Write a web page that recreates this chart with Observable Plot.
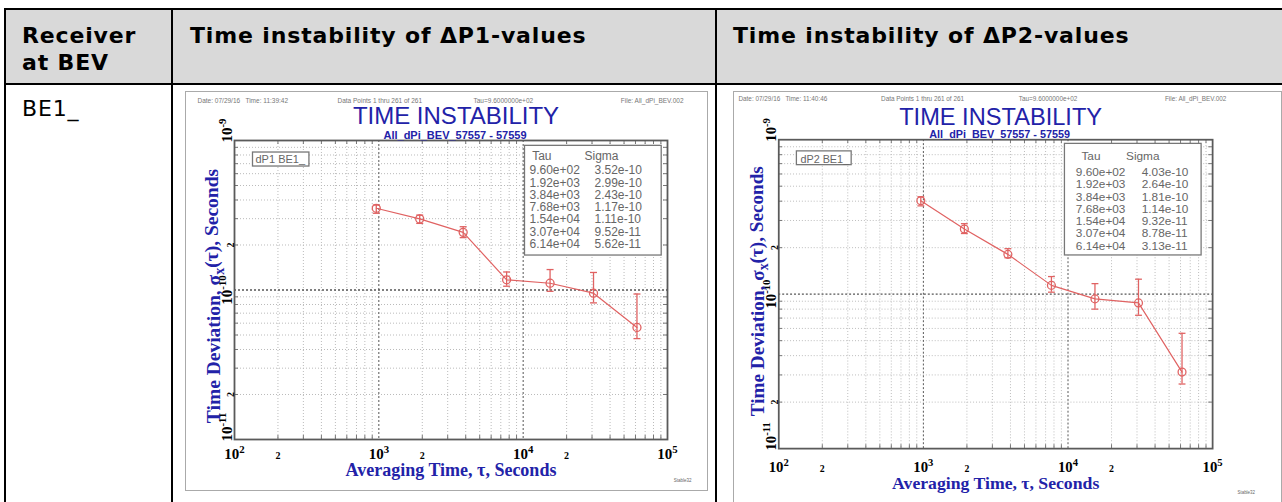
<!DOCTYPE html>
<html>
<head>
<meta charset="utf-8">
<script src="https://cdn.jsdelivr.net/npm/d3@7"></script>
<script src="https://cdn.jsdelivr.net/npm/@observablehq/plot@0.6"></script>
<style>
  body { margin: 0; width: 1282px; height: 502px; overflow: hidden; position: relative; background: #fff;
         font-family: "DejaVu Sans", Verdana, sans-serif; color: #000; }
  .hdr { position: absolute; left: 5px; top: 9px; width: 1300px; height: 75px; background: #d9d9d9; }
  .ln { position: absolute; background: #000; }
  .cell { position: absolute; font-size: 22px; line-height: 27px; letter-spacing: 0.85px; }
  .b { font-weight: bold; }
  .chart { position: absolute; border: 1px solid #aaa; background: #fff; }
  .chart svg { display: block; }
</style>
</head>
<body>
<div class="hdr"></div>
<div class="ln" style="left:5px;top:8px;width:1300px;height:2px"></div>
<div class="ln" style="left:5px;top:83px;width:1300px;height:2px"></div>
<div class="ln" style="left:4px;top:8px;width:2px;height:500px"></div>
<div class="ln" style="left:171px;top:8px;width:2px;height:500px"></div>
<div class="ln" style="left:715px;top:8px;width:2px;height:500px"></div>
<div class="cell b" style="left:22px;top:22px">Receiver<br>at BEV</div>
<div class="cell b" style="left:190px;top:22px">Time instability of ΔP1-values</div>
<div class="cell b" style="left:733px;top:22px">Time instability of ΔP2-values</div>
<div class="cell" style="left:22px;top:95px">BE1_</div>
<div id="c1" class="chart" style="left:185px;top:91px"></div>
<div id="c2" class="chart" style="left:733px;top:91px"></div>

<script>
// averaging times (s)
const tau = [960, 1920, 3840, 7680, 15360, 30720, 61440]

// ΔP1 time deviation and error bar limits
const sigmaP1 = [3.52e-10, 2.99e-10, 2.43e-10, 1.17e-10, 1.11e-10, 9.52e-11, 5.62e-11]
const loP1 = [3.26e-10, 2.79e-10, 2.24e-10, 1.06e-10, 0.98e-10, 0.82e-10, 4.73e-11]
const hiP1 = [3.70e-10, 3.17e-10, 2.65e-10, 1.32e-10, 1.37e-10, 1.31e-10, 0.94e-10]

// ΔP2 time deviation and error bar limits
const sigmaP2 = [4.03e-10, 2.64e-10, 1.81e-10, 1.14e-10, 9.32e-11, 8.78e-11, 3.13e-11]
const loP2 = [3.73e-10, 2.47e-10, 1.72e-10, 1.03e-10, 0.80e-10, 0.73e-10, 2.62e-11]
const hiP2 = [4.27e-10, 2.86e-10, 1.97e-10, 1.30e-10, 1.17e-10, 1.25e-10, 5.58e-11]

// tick labels
const xMajor = [1e2, 1e3, 1e4, 1e5]
const xTwos = [2e2, 2e3, 2e4]
const yMajor = [1e-11, 1e-10, 1e-9]
const yTwos = [2e-11, 2e-10]

const red = '#e06262'
const blue = '#2222a8'
const serif = '"Liberation Serif", "Times New Roman", serif'
const sans = '"Liberation Sans", Arial, sans-serif'

// horizontal error bar cap
const cap = {
  draw(ctx, size) {
    const r = Math.sqrt(size / Math.PI)
    ctx.moveTo(-r, 0)
    ctx.lineTo(r, 0)
  }
}

const expFmt = v => {
  const [m, e] = v.toExponential(2).split('e')
  const n = Math.abs(+e)
  return m + 'e' + (+e < 0 ? '-' : '+') + (n < 10 ? '0' + n : n)
}
const pow = d => '10^' + Math.round(Math.log10(d))

function timeChart(c) {
  const data = tau.map((t, i) => ({tau: t, sigma: c.sigma[i], lo: c.lo[i], hi: c.hi[i]}))
  const fw = c.width - c.marginLeft - c.marginRight
  const fh = c.height - c.marginTop - c.marginBottom
  const xGrid = d3.scaleLog().domain([1e2, 1e5]).ticks().filter(v => !xMajor.includes(v))
  const yGrid = d3.scaleLog().domain([1e-11, 1e-9]).ticks().filter(v => !yMajor.some(m => Math.abs(m - v) / m < 1e-6))
  const head = {dy: c.headDy, lineAnchor: 'middle', fontSize: 6.5, fill: '#777'}

  return Plot.plot({
    width: c.width,
    height: c.height,
    marginLeft: c.marginLeft,
    marginRight: c.marginRight,
    marginTop: c.marginTop,
    marginBottom: c.marginBottom,
    x: {type: 'log', domain: [1e2, 1e5], axis: null},
    y: {type: 'log', domain: [1e-11, 1e-9], axis: null},
    style: {background: '#fff', fontFamily: sans, overflow: 'visible'},
    marks: [
      // grid
      Plot.ruleX(xGrid, {stroke: '#bbb', strokeDasharray: '1,2'}),
      Plot.ruleY(yGrid, {stroke: '#bbb', strokeDasharray: '1,2'}),
      Plot.ruleX([1e3, 1e4], {stroke: '#555', strokeDasharray: '2,2'}),
      Plot.ruleY([1e-10], {stroke: '#555', strokeDasharray: '2,2', strokeWidth: 1.3}),
      // inward frame ticks
      Plot.ruleX(xGrid, {insetTop: fh - 4, stroke: '#777'}),
      Plot.ruleX(xGrid, {insetBottom: fh - 4, stroke: '#777'}),
      Plot.ruleY(yGrid, {insetRight: fw - 4, stroke: '#777'}),
      Plot.ruleY(yGrid, {insetLeft: fw - 4, stroke: '#777'}),
      Plot.frame({stroke: '#5a5a5a', strokeWidth: 1.8}),

      // data
      Plot.ruleX(data, {x: 'tau', y1: 'lo', y2: 'hi', stroke: red, strokeWidth: 1.3}),
      Plot.dot(data, {x: 'tau', y: 'lo', symbol: cap, r: 3.5, stroke: red, strokeWidth: 1.3}),
      Plot.dot(data, {x: 'tau', y: 'hi', symbol: cap, r: 3.5, stroke: red, strokeWidth: 1.3}),
      Plot.line(data, {x: 'tau', y: 'sigma', stroke: red, strokeWidth: 1.2}),
      Plot.dot(data, {x: 'tau', y: 'sigma', r: 4, stroke: red, strokeWidth: 1.3, fill: 'none'}),

      // x tick labels
      Plot.text(xMajor, {x: d => d, text: pow, frameAnchor: 'bottom', dy: c.xTickDy, lineAnchor: 'bottom',
        fontFamily: serif, fontWeight: 'bold', fontSize: 15, fill: '#000', ariaDescription: 'pow'}),
      Plot.text(xTwos, {x: d => d, text: () => '2', frameAnchor: 'bottom', dy: c.xTickDy, lineAnchor: 'bottom',
        fontFamily: serif, fontWeight: 'bold', fontSize: 10, fill: '#000'}),
      // y tick labels
      Plot.text([yMajor[1]], {y: d => d, text: pow, frameAnchor: 'left', dx: c.yTickDx, rotate: -90,
        lineAnchor: 'bottom', textAnchor: 'middle',
        fontFamily: serif, fontWeight: 'bold', fontSize: 15, fill: '#000', ariaDescription: 'pow'}),
      Plot.text([yMajor[0], yMajor[2]], {y: d => d, text: pow, frameAnchor: 'left', dx: c.yTickDx, dy: 2, rotate: -90,
        lineAnchor: 'bottom', textAnchor: 'start',
        fontFamily: serif, fontWeight: 'bold', fontSize: 15, fill: '#000', ariaDescription: 'pow'}),
      Plot.text(yTwos, {y: d => d, text: () => '2', frameAnchor: 'left', dx: c.yTickDx + 2, rotate: -90,
        lineAnchor: 'bottom', textAnchor: 'middle',
        fontFamily: serif, fontWeight: 'bold', fontSize: 10, fill: '#000'}),

      // axis titles
      Plot.text(['Averaging Time, τ, Seconds'], {frameAnchor: 'bottom', dy: c.xLabelDy, lineAnchor: 'bottom',
        fontFamily: serif, fontWeight: 'bold', fontSize: 18, fill: blue}),
      Plot.text(['Time Deviation, σ_x(τ), Seconds'], {frameAnchor: 'left', dx: c.yLabelDx, dy: c.yLabelDy, rotate: -90,
        textAnchor: 'middle', lineAnchor: 'middle', fontFamily: serif, fontWeight: 'bold', fontSize: 19.5, fill: blue,
        ariaDescription: 'ylabel'}),

      // header line and titles
      Plot.text([c.date], {...head, frameAnchor: 'top-left', dx: c.dateDx, textAnchor: 'start'}),
      Plot.text(['Data Points 1 thru 261 of 261'], {...head, frameAnchor: 'top-left', dx: c.pointsDx, textAnchor: 'start'}),
      Plot.text(['Tau=9.6000000e+02'], {...head, frameAnchor: 'top-left', dx: c.tauDx, textAnchor: 'start'}),
      Plot.text(['File: All_dPi_BEV.002'], {...head, frameAnchor: 'top-right', dx: c.fileDx, textAnchor: 'end'}),
      Plot.text(['TIME INSTABILITY'], {frameAnchor: 'top', dx: 5, dy: c.titleDy, lineAnchor: 'bottom', fontSize: 24, fill: blue}),
      Plot.text(['All_dPi_BEV_57557 - 57559'], {frameAnchor: 'top', dx: 4, dy: -2, lineAnchor: 'bottom', fontSize: 11, fontWeight: 'bold', fill: blue}),
      Plot.text(['Stable32'], {frameAnchor: 'bottom-right', dx: c.stableDx, dy: c.stableDy, textAnchor: 'end', fontSize: 4.5, fill: '#666'}),

      // legend box text
      Plot.text([c.legend], {frameAnchor: 'top-left', dx: c.legendDx, dy: c.legendDy, textAnchor: 'start', lineAnchor: 'middle',
        fontSize: 11, fill: '#666', ariaDescription: 'legend'}),

      // Tau / Sigma table
      Plot.text(['Tau'], {frameAnchor: 'top-right', dx: c.tauHdDx, dy: c.tableHdDy, lineAnchor: 'middle', fontSize: 12, fill: '#666', ariaDescription: 'table'}),
      Plot.text(['Sigma'], {frameAnchor: 'top-right', dx: c.sigHdDx, dy: c.tableHdDy, lineAnchor: 'middle', fontSize: 12, fill: '#666', ariaDescription: 'table'}),
      Plot.text([tau.map(expFmt).join('\n')], {frameAnchor: 'top-right', dx: c.col1Dx, dy: c.rowsDy, textAnchor: 'start', lineAnchor: 'top',
        lineHeight: c.rowLh, fontSize: 12, fill: '#666', ariaDescription: 'table'}),
      Plot.text([c.sigma.map(expFmt).join('\n')], {frameAnchor: 'top-right', dx: c.col2Dx, dy: c.rowsDy, textAnchor: 'start', lineAnchor: 'top',
        lineHeight: c.rowLh, fontSize: 12, fill: '#666', ariaDescription: 'table'}),
    ]
  })
}

// superscripts, subscript and boxes drawn after the svg is in the page
function finish(svg, c) {
  const s = d3.select(svg)
  s.selectAll('g[aria-description="pow"] text').each(function () {
    const [base, e] = this.textContent.split('^')
    const t = d3.select(this).text(base)
    t.append('tspan').attr('dy', '-0.55em').attr('font-size', '72%').text(e)
  })
  s.selectAll('g[aria-description="ylabel"] text').each(function () {
    const [a, b] = this.textContent.split('_x')
    const t = d3.select(this).text(a)
    t.append('tspan').attr('dy', '0.3em').attr('font-size', '72%').text('x')
    t.append('tspan').attr('dy', '-0.3em').text(b)
  })
  const sr = svg.getBoundingClientRect()
  const box = (label, p) => {
    const nodes = s.selectAll(`g[aria-description="${label}"]`).nodes()
    if (!nodes.length) return
    let x0 = Infinity, y0 = Infinity, x1 = -Infinity, y1 = -Infinity
    nodes.forEach(n => {
      const r = n.getBoundingClientRect()
      x0 = Math.min(x0, r.left); y0 = Math.min(y0, r.top)
      x1 = Math.max(x1, r.right); y1 = Math.max(y1, r.bottom)
    })
    s.insert('rect', () => nodes[0])
      .attr('x', x0 - sr.left - p[3]).attr('y', y0 - sr.top - p[0])
      .attr('width', x1 - x0 + p[1] + p[3]).attr('height', y1 - y0 + p[0] + p[2])
      .attr('fill', '#fff').attr('stroke', '#777').attr('stroke-width', 1.3)
  }
  box('legend', [1, 3, 1, 3])
  box('table', c.tablePad)
}

const charts = [
  {id: '#c1', sigma: sigmaP1, lo: loP1, hi: hiP1, legend: 'dP1 BE1_', date: 'Date: 07/29/16   Time: 11:39:42',
   width: 521, height: 398, marginLeft: 48, marginRight: 40, marginTop: 48, marginBottom: 51,
   headDy: -40, dateDx: -37, pointsDx: 103, tauDx: 239, fileDx: 16, titleDy: -17,
   xTickDy: 19, yTickDx: -3, xLabelDy: 36, yLabelDx: -21, yLabelDy: 6, stableDx: 24, stableDy: 42,
   legendDx: 21, legendDy: 19, tauHdDx: -116, sigHdDx: -49, tableHdDy: 16, col1Dx: -138, col2Dx: -73,
   rowsDy: 25, rowLh: 1.025, tablePad: [4, 19, 4, 5]},
  {id: '#c2', sigma: sigmaP2, lo: loP2, hi: hiP2, legend: 'dP2 BE1_', date: 'Date: 07/29/16   Time: 11:40:46',
   width: 556, height: 418, marginLeft: 45, marginRight: 70, marginTop: 48, marginBottom: 56,
   headDy: -41, dateDx: -41, pointsDx: 104, tauDx: 244, fileDx: 14, titleDy: -15,
   xTickDy: 24, yTickDx: -3, xLabelDy: 41, yLabelDx: -21, yLabelDy: -3, stableDx: 43, stableDy: 46,
   legendDx: 22, legendDy: 20, tauHdDx: -114, sigHdDx: -54, tableHdDy: 17, col1Dx: -139, col2Dx: -72,
   rowsDy: 28, rowLh: 1.04, tablePad: [5, 20, 5, 6]},
]

charts.forEach(c => {
  const chart = timeChart(c)
  d3.select(c.id).append(() => chart)
  finish(chart, c)
})
</script>
</body>
</html>
